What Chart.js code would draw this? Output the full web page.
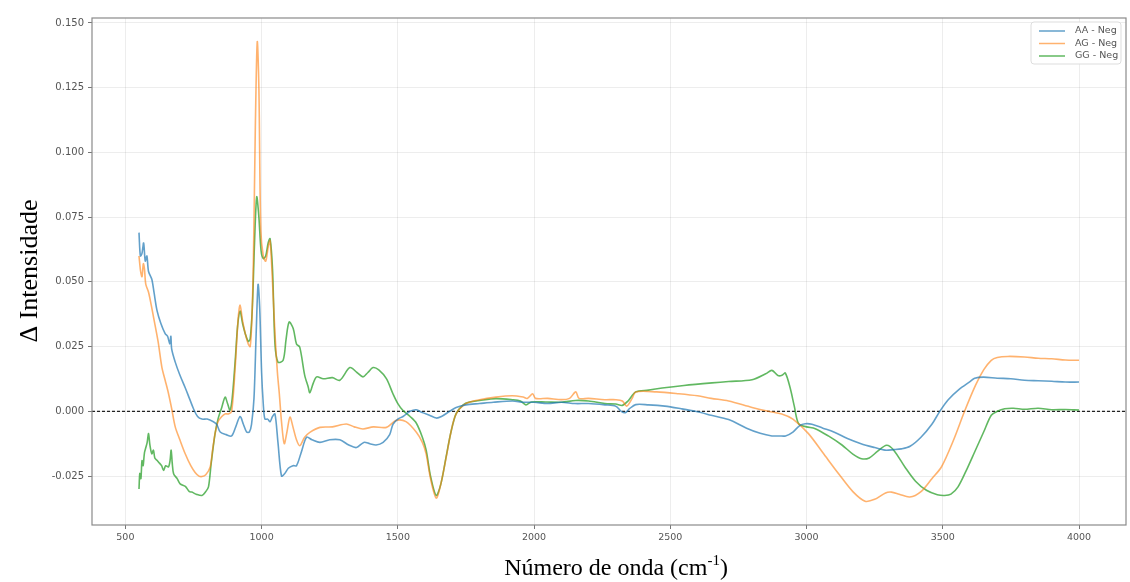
<!DOCTYPE html>
<html>
<head>
<meta charset="utf-8">
<script src="https://cdn.jsdelivr.net/npm/chart.js@4.4.1/dist/chart.umd.min.js"></script>
<style>
  html, body { margin: 0; padding: 0; background: #fff; }
  #grafico { display: block; }
</style>
</head>
<body>
<canvas id="grafico" width="1130" height="582"></canvas>
<script>
// --- DATOS ---
const etiquetas = ['AA - Neg', 'AG - Neg', 'GG - Neg'];
const colores = ['rgba(31,119,180,0.7)', 'rgba(255,127,14,0.6)', 'rgba(44,160,44,0.75)'];

const ticksX = [500, 1000, 1500, 2000, 2500, 3000, 3500, 4000];
const ticksY = [-0.025, 0, 0.025, 0.05, 0.075, 0.1, 0.125, 0.15];

const aaX = [550,555,561,567,573,579,585,597,605,616,630,646,655,663,667,670,683,700,720,735,750,765,781,800,823,835,848,870,890,905,921,933,945,955,963,972,980,987,993,1000,1006,1012,1022,1031,1040,1049,1060,1073,1085,1098,1115,1128,1145,1165,1185,1214,1250,1287,1320,1348,1375,1397,1420,1446,1470,1482,1500,1519,1545,1568,1590,1616,1641,1660,1690,1714,1750,1800,1850,1921,1960,2000,2050,2100,2150,2200,2260,2300,2320,2335,2350,2373,2420,2480,2540,2592,2650,2714,2780,2830,2873,2900,2923,2950,2975,2995,3020,3060,3100,3150,3200,3250,3288,3320,3348,3380,3420,3460,3489,3520,3560,3600,3617,3650,3700,3750,3800,3850,3900,3950,4000];
const aaY = [0.069,0.060,0.061,0.065,0.058,0.060,0.054,0.051,0.046,0.039,0.034,0.030,0.029,0.026,0.029,0.024,0.019,0.014,0.009,0.005,0.001,-0.002,-0.003,-0.003,-0.004,-0.005,-0.008,-0.009,-0.0095,-0.006,-0.002,-0.005,-0.008,-0.008,-0.005,0.005,0.030,0.049,0.040,0.015,0.003,-0.003,-0.003,-0.004,-0.002,-0.001,-0.012,-0.025,-0.024,-0.022,-0.021,-0.021,-0.016,-0.010,-0.011,-0.012,-0.011,-0.011,-0.013,-0.014,-0.012,-0.0125,-0.013,-0.012,-0.009,-0.005,-0.003,-0.002,0.000,0.0006,-0.0005,-0.0015,-0.0026,-0.002,0.000,0.0015,0.0025,0.003,0.0035,0.004,0.0035,0.0035,0.003,0.0035,0.003,0.003,0.0025,0.002,0.000,-0.0005,0.001,0.0026,0.0025,0.002,0.001,0.000,-0.0015,-0.0032,-0.0065,-0.0085,-0.0095,-0.0095,-0.0095,-0.008,-0.0055,-0.0048,-0.005,-0.0065,-0.008,-0.0105,-0.0125,-0.014,-0.015,-0.0148,-0.0145,-0.0135,-0.010,-0.005,0.000,0.0045,0.0085,0.0115,0.0128,0.0132,0.0128,0.0126,0.0120,0.0118,0.0116,0.0113,0.0113];

const agX = [550,556,561,566,570,575,585,595,604,620,634,646,658,670,683,700,720,740,756,770,781,795,811,820,829,840,854,866,878,890,903,914,921,930,940,951,958,964,970,977,984,990,997,1006,1015,1025,1031,1040,1049,1058,1065,1073,1083,1093,1104,1115,1128,1140,1158,1177,1214,1260,1311,1340,1372,1410,1458,1494,1530,1568,1590,1604,1620,1641,1658,1677,1695,1714,1750,1800,1860,1920,1960,1975,1995,2005,2050,2100,2130,2153,2165,2200,2260,2300,2324,2340,2360,2373,2450,2531,2600,2650,2714,2800,2860,2909,2950,3007,3060,3117,3170,3215,3250,3290,3312,3340,3379,3420,3460,3495,3540,3580,3620,3650,3678,3700,3739,3800,3850,3900,3950,4000];
const agY = [0.060,0.054,0.052,0.057,0.055,0.049,0.046,0.041,0.036,0.027,0.017,0.012,0.007,0.001,-0.006,-0.011,-0.0165,-0.021,-0.0236,-0.025,-0.0252,-0.0245,-0.0216,-0.015,-0.0087,-0.004,-0.002,-0.001,-0.001,0.000,0.017,0.036,0.041,0.035,0.030,0.026,0.025,0.035,0.059,0.110,0.1427,0.125,0.070,0.060,0.058,0.064,0.066,0.050,0.030,0.015,0.0068,-0.004,-0.0125,-0.008,-0.0022,-0.006,-0.011,-0.0133,-0.010,-0.0081,-0.0062,-0.006,-0.0049,-0.006,-0.0068,-0.006,-0.0062,-0.0035,-0.004,-0.0081,-0.012,-0.0165,-0.026,-0.0335,-0.028,-0.018,-0.008,-0.001,0.003,0.0045,0.0055,0.006,0.0055,0.005,0.0068,0.005,0.005,0.0045,0.005,0.0075,0.005,0.005,0.0045,0.0045,0.004,0.002,0.005,0.0075,0.0075,0.0068,0.006,0.005,0.004,0.0015,0.000,-0.001,-0.003,-0.0086,-0.016,-0.024,-0.031,-0.0347,-0.034,-0.0315,-0.0312,-0.032,-0.0331,-0.031,-0.026,-0.0215,-0.011,0.000,0.010,0.016,0.0197,0.0208,0.0212,0.021,0.0205,0.0203,0.0198,0.0197];

const ggX = [550,553,557,561,565,570,575,580,585,590,597,603,608,616,625,633,640,648,658,664,668,672,677,690,701,720,735,744,760,781,795,805,815,829,840,854,866,875,884,892,903,912,921,930,940,951,958,966,974,982,990,998,1006,1015,1024,1031,1040,1049,1060,1079,1090,1101,1116,1128,1140,1158,1171,1177,1190,1202,1226,1260,1287,1324,1350,1372,1390,1409,1430,1458,1482,1500,1519,1545,1568,1590,1604,1620,1641,1658,1677,1695,1714,1740,1763,1800,1860,1920,1950,1970,1990,2043,2100,2153,2200,2260,2300,2324,2345,2373,2420,2470,2550,2653,2714,2800,2850,2873,2895,2910,2922,2940,2955,2971,3000,3032,3080,3130,3170,3202,3230,3260,3294,3320,3361,3400,3440,3480,3507,3530,3556,3590,3617,3650,3678,3700,3727,3760,3800,3850,3900,3950,4000];
const ggY = [-0.030,-0.024,-0.026,-0.019,-0.021,-0.016,-0.014,-0.012,-0.0086,-0.013,-0.0164,-0.015,-0.018,-0.0189,-0.020,-0.021,-0.0228,-0.021,-0.0215,-0.019,-0.015,-0.020,-0.0241,-0.026,-0.028,-0.029,-0.031,-0.0312,-0.032,-0.0325,-0.031,-0.0292,-0.020,-0.0087,-0.003,0.0016,0.0055,0.003,0.0004,0.005,0.0194,0.033,0.0387,0.034,0.030,0.027,0.028,0.040,0.065,0.0828,0.075,0.062,0.059,0.060,0.065,0.0667,0.055,0.026,0.019,0.0197,0.028,0.0345,0.032,0.026,0.0248,0.014,0.0094,0.0072,0.011,0.0133,0.0126,0.013,0.012,0.0169,0.015,0.0133,0.015,0.0169,0.016,0.0126,0.0068,0.003,0.0003,-0.002,-0.0046,-0.010,-0.015,-0.025,-0.0325,-0.028,-0.0177,-0.008,-0.0009,0.0025,0.0036,0.0042,0.0049,0.0045,0.004,0.0025,0.0036,0.0036,0.0035,0.0042,0.004,0.003,0.0028,0.0023,0.004,0.0075,0.0082,0.009,0.010,0.011,0.0115,0.0122,0.0145,0.0158,0.0138,0.0139,0.0148,0.009,0.002,-0.0048,-0.006,-0.0067,-0.0095,-0.013,-0.0165,-0.0183,-0.018,-0.0155,-0.0131,-0.015,-0.0215,-0.027,-0.0305,-0.0322,-0.0325,-0.032,-0.0292,-0.022,-0.0157,-0.008,-0.0015,0.000,0.001,0.0012,0.0008,0.0012,0.0006,0.0007,0.0005];

const rangoX = [377.5, 4172.5];
const rangoY = [-0.0439, 0.1519];

function puntos(xs, ys) { return xs.map((x, i) => ({ x: x, y: ys[i] })); }

const series = [puntos(aaX, aaY), puntos(agX, agY), puntos(ggX, ggY)];

// --- PLUGIN: marco, línea cero, leyenda y títulos ---
const extras = {
    id: 'extras',
    beforeDatasetsDraw(chart) {
        const { ctx, chartArea: a, scales } = chart;
        const y0 = scales.y.getPixelForValue(0);
        ctx.save();
        ctx.strokeStyle = '#222';
        ctx.lineWidth = 1.2;
        ctx.setLineDash([3, 2]);
        ctx.beginPath();
        ctx.moveTo(a.left, y0);
        ctx.lineTo(a.right, y0);
        ctx.stroke();
        ctx.restore();
    },
    afterDraw(chart) {
        const { ctx, chartArea: a } = chart;
        ctx.save();
        // marco
        ctx.strokeStyle = '#8a8a8a';
        ctx.lineWidth = 1.2;
        ctx.strokeRect(a.left, a.top, a.right - a.left, a.bottom - a.top);

        // leyenda
        const lx = a.right - 95, ly = a.top + 4;
        ctx.fillStyle = 'rgba(255,255,255,0.9)';
        ctx.strokeStyle = '#dddddd';
        ctx.lineWidth = 1;
        ctx.beginPath();
        ctx.roundRect(lx, ly, 90, 42, 3);
        ctx.fill();
        ctx.stroke();
        ctx.font = '9.5px "DejaVu Sans"';
        ctx.textBaseline = 'middle';
        chart.data.datasets.forEach((d, i) => {
            const yy = ly + 9 + i * 12.5;
            ctx.strokeStyle = d.borderColor;
            ctx.lineWidth = 1.5;
            ctx.beginPath();
            ctx.moveTo(lx + 8, yy);
            ctx.lineTo(lx + 34, yy);
            ctx.stroke();
            ctx.fillStyle = '#555';
            ctx.fillText(d.label, lx + 44, yy);
        });

        // título eje Y
        ctx.fillStyle = '#000';
        ctx.font = '26px "Liberation Serif"';
        ctx.textAlign = 'center';
        ctx.textBaseline = 'middle';
        ctx.save();
        ctx.translate(30, 271);
        ctx.rotate(-Math.PI / 2);
        ctx.fillText('Δ Intensidade', 0, 0);
        ctx.restore();

        // título eje X con superíndice
        const base = 'Número de onda (cm';
        const sup = '-1';
        const fin = ')';
        ctx.font = '24px "Liberation Serif"';
        const w1 = ctx.measureText(base).width;
        const w3 = ctx.measureText(fin).width;
        ctx.font = '15px "Liberation Serif"';
        const w2 = ctx.measureText(sup).width;
        const total = w1 + w2 + w3;
        let x = 616 - total / 2;
        const yb = 575;
        ctx.textAlign = 'left';
        ctx.textBaseline = 'alphabetic';
        ctx.font = '24px "Liberation Serif"';
        ctx.fillText(base, x, yb);
        x += w1;
        ctx.font = '15px "Liberation Serif"';
        ctx.fillText(sup, x, yb - 10);
        x += w2;
        ctx.font = '24px "Liberation Serif"';
        ctx.fillText(fin, x, yb);
        ctx.restore();
    }
};

const ctx = document.getElementById('grafico').getContext('2d');
new Chart(ctx, {
    type: 'line',
    data: {
        datasets: series.map((s, i) => ({
            label: etiquetas[i],
            data: s,
            borderColor: colores[i],
            borderWidth: 1.6,
            pointRadius: 0,
            tension: 0.3,
            fill: false
        }))
    },
    options: {
        responsive: false,
        animation: false,
        devicePixelRatio: 1,
        layout: { padding: { top: 18, right: 4, left: 0, bottom: 0 } },
        plugins: { legend: { display: false }, tooltip: { enabled: false } },
        scales: {
            x: {
                type: 'linear',
                min: rangoX[0],
                max: rangoX[1],
                afterBuildTicks: s => { s.ticks = ticksX.map(v => ({ value: v })); },
                afterFit: s => { s.height = 57; },
                border: { display: false },
                grid: { color: 'rgba(0,0,0,0.07)', tickColor: '#777', tickLength: 4 },
                ticks: {
                    color: '#555',
                    font: { family: 'DejaVu Sans', size: 9.5 },
                    padding: 3,
                    maxRotation: 0,
                    callback: v => String(v)
                }
            },
            y: {
                type: 'linear',
                min: rangoY[0],
                max: rangoY[1],
                afterBuildTicks: s => { s.ticks = ticksY.map(v => ({ value: v })); },
                afterFit: s => { s.width = 92; },
                border: { display: false },
                grid: { color: 'rgba(0,0,0,0.07)', tickColor: '#777', tickLength: 4 },
                ticks: {
                    color: '#555',
                    font: { family: 'DejaVu Sans', size: 10 },
                    padding: 4,
                    callback: v => v.toFixed(3)
                }
            }
        }
    },
    plugins: [extras]
});
</script>
</body>
</html>
